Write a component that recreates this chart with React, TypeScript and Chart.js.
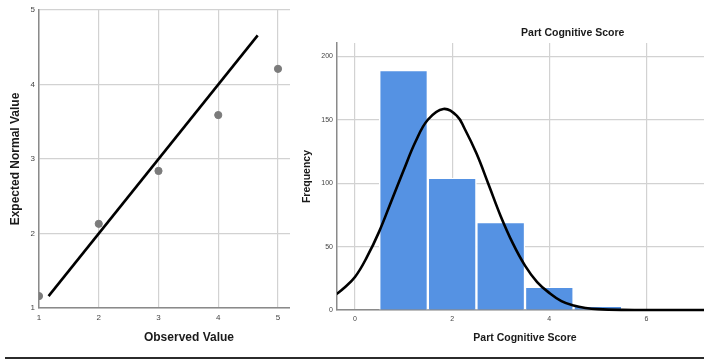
import React, { useEffect, useRef } from 'react';
import { Chart, registerables } from 'chart.js';

Chart.register(...registerables);

const FONT = "'Liberation Sans', Arial, sans-serif";

// Q-Q plot data
const qqObserved = [1, 2, 3, 4, 5];
const qqExpected = [1.16, 2.13, 2.84, 3.59, 4.21];
const refLineX = [1.16, 4.66];
const refLineY = [1.16, 4.66];
const qqXTicks = [1, 2, 3, 4, 5, 6];
const qqYTicks = [1, 2, 3, 4, 5];

// Histogram data
const binCenters = [1, 2, 3, 4, 5];
const binCounts = [189, 104, 69, 18, 3];
const curveX = [-0.4, -0.25, 0, 0.25, 0.5, 0.75, 1, 1.25, 1.5, 1.82, 2.1, 2.25, 2.5, 2.75, 3, 3.25, 3.5, 3.75, 4, 4.25, 4.5, 4.75, 5, 5.5, 6, 6.5, 7, 7.5];
const curveY = [12, 16.5, 26, 42, 62, 86, 110, 133, 150, 158.5, 153, 143.5, 123.5, 99, 74, 52.5, 35, 22, 13.5, 7, 3.5, 1.6, 0.7, 0.1, 0, 0, 0, 0];
const histXTicks = [0, 2, 4, 6];
const histYTicks = [0, 50, 100, 150, 200];

const manualTitle = {
  id: 'manualTitle',
  afterDraw(chart: any, _args: any, opts: any) {
    if (!opts || !opts.text) return;
    const ctx = chart.ctx;
    ctx.save();
    ctx.font = `bold ${opts.size}px ${FONT}`;
    ctx.fillStyle = opts.color;
    ctx.textAlign = 'center';
    ctx.textBaseline = 'middle';
    ctx.fillText(opts.text, opts.x, opts.y);
    ctx.restore();
  },
};

function QQChart() {
  const ref = useRef<HTMLCanvasElement | null>(null);
  useEffect(() => {
    if (!ref.current) return;
    const chart = new Chart(ref.current, {
      type: 'scatter',
      data: {
        datasets: [
          {
            type: 'line',
            data: refLineX.map((x, i) => ({ x, y: refLineY[i] })),
            borderColor: '#000',
            borderWidth: 2.6,
            pointRadius: 0,
            fill: false,
            order: 0,
          } as any,
          {
            type: 'scatter',
            data: qqObserved.map((x, i) => ({ x, y: qqExpected[i] })),
            backgroundColor: '#7b7b7b',
            borderColor: '#7b7b7b',
            pointRadius: 3.6,
            clip: 0,
            order: 1,
          } as any,
        ],
      },
      options: {
        animation: false,
        responsive: false,
        events: [],
        layout: { padding: { top: 10, right: 6, left: 0, bottom: 0 } },
        plugins: { legend: { display: false }, tooltip: { enabled: false } },
        scales: {
          x: {
            type: 'linear',
            min: 1,
            max: 6.02,
            afterBuildTicks: (s: any) => {
              s.ticks = qqXTicks.map((v) => ({ value: v }));
            },
            afterFit: (s: any) => {
              s.height = 51;
            },
            grid: { color: '#d2d2d2', lineWidth: 1.2, drawTicks: false },
            border: { color: '#8a8a8a', width: 1.5 },
            ticks: { padding: 5, font: { size: 8, family: FONT }, color: '#444' },
            title: {
              display: true,
              text: 'Observed Value',
              font: { size: 12, weight: 'bold', family: FONT },
              color: '#1a1a1a',
              padding: { top: 0, bottom: 14 },
            },
          },
          y: {
            type: 'linear',
            min: 1,
            max: 5,
            afterBuildTicks: (s: any) => {
              s.ticks = qqYTicks.map((v) => ({ value: v }));
            },
            afterFit: (s: any) => {
              s.width = 39;
            },
            grid: { color: '#d2d2d2', lineWidth: 1.2, drawTicks: false },
            border: { color: '#8a8a8a', width: 1.5 },
            ticks: { padding: 4, font: { size: 8, family: FONT }, color: '#444' },
            title: {
              display: true,
              text: 'Expected Normal Value',
              font: { size: 12, weight: 'bold', family: FONT },
              color: '#1a1a1a',
              padding: { top: 8, bottom: 0 },
            },
          },
        },
      } as any,
    });
    return () => chart.destroy();
  }, []);
  return (
    <canvas
      ref={ref}
      width={345}
      height={359}
      style={{ position: 'absolute', left: 0, top: 0, width: 345, height: 359 }}
    />
  );
}

function HistChart() {
  const ref = useRef<HTMLCanvasElement | null>(null);
  useEffect(() => {
    if (!ref.current) return;
    const chart = new Chart(ref.current, {
      type: 'bar',
      data: {
        datasets: [
          {
            type: 'line',
            data: curveX.map((x, i) => ({ x, y: curveY[i] })),
            borderColor: '#000',
            borderWidth: 2.6,
            pointRadius: 0,
            tension: 0.4,
            fill: false,
            clip: { left: 0, top: 5, right: 0, bottom: 5 },
            order: 0,
          } as any,
          {
            type: 'bar',
            data: binCenters.map((x, i) => ({ x, y: binCounts[i] })),
            backgroundColor: '#5592e3',
            borderColor: '#ffffff',
            borderWidth: { left: 1.5, right: 1.5, top: 1.2, bottom: 0 },
            borderSkipped: 'start',
            barPercentage: 1,
            categoryPercentage: 1,
            order: 1,
          } as any,
        ],
      },
      plugins: [manualTitle],
      options: {
        animation: false,
        responsive: false,
        events: [],
        layout: { padding: { top: 43, right: 7, left: 0, bottom: 0 } },
        plugins: {
          legend: { display: false },
          tooltip: { enabled: false },
          manualTitle: { text: 'Part Cognitive Score', x: 282.7, y: 33.5, size: 10.5, color: '#1a1a1a' },
        },
        scales: {
          x: {
            type: 'linear',
            min: -0.37,
            max: 7.37,
            offset: false,
            afterBuildTicks: (s: any) => {
              s.ticks = histXTicks.map((v) => ({ value: v }));
            },
            afterFit: (s: any) => {
              s.height = 49;
            },
            grid: { color: '#d2d2d2', lineWidth: 1.2, drawTicks: false, offset: false },
            border: { color: '#8a8a8a', width: 1.5 },
            ticks: { padding: 5, font: { size: 7, family: FONT }, color: '#444' },
            title: {
              display: true,
              text: 'Part Cognitive Score',
              font: { size: 10.5, weight: 'bold', family: FONT },
              color: '#1a1a1a',
              padding: { top: 0, bottom: 15 },
            },
          },
          y: {
            type: 'linear',
            min: 0,
            max: 210.5,
            afterBuildTicks: (s: any) => {
              s.ticks = histYTicks.map((v) => ({ value: v }));
            },
            afterFit: (s: any) => {
              s.width = 47;
            },
            grid: { color: '#d2d2d2', lineWidth: 1.2, drawTicks: false },
            border: { color: '#8a8a8a', width: 1.5 },
            ticks: { padding: 4, font: { size: 7, family: FONT }, color: '#444' },
            title: {
              display: true,
              text: 'Frequency',
              font: { size: 10.5, weight: 'bold', family: FONT },
              color: '#1a1a1a',
              padding: { top: 10.5, bottom: 0 },
            },
          },
        },
      } as any,
    });
    return () => chart.destroy();
  }, []);
  return (
    <canvas
      ref={ref}
      width={430}
      height={359}
      style={{ position: 'absolute', left: 290, top: 0, width: 430, height: 359, background: '#ffffff' }}
    />
  );
}

export default function App() {
  return (
    <div
      style={{
        position: 'fixed',
        left: 0,
        top: 0,
        width: 704,
        height: 359,
        overflow: 'hidden',
        background: '#ffffff',
      }}
    >
      <QQChart />
      <HistChart />
      <div style={{ position: 'absolute', left: 5, top: 357, width: 699, height: 2, background: '#2b2b2b' }} />
    </div>
  );
}
